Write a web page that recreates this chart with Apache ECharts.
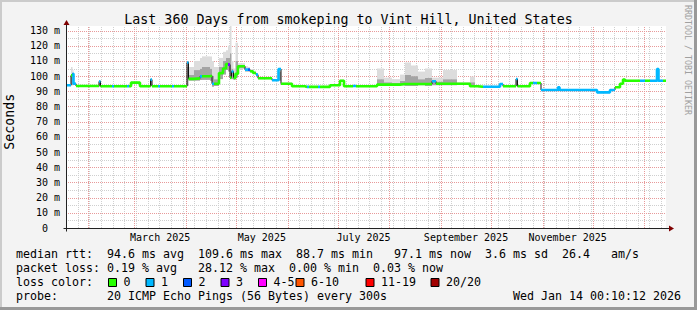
<!DOCTYPE html>
<html><head><meta charset="utf-8">
<script src="https://cdn.jsdelivr.net/npm/echarts@6/dist/echarts.min.js"></script>
<style>html,body{margin:0;padding:0;background:#f3f3f3}#c{width:697px;height:310px}</style>
</head><body><div id="c"></div>
<script>
// ---- data (x = days since start of 360-day window, values in ms) ----
const days = [0,3.0,3.9,4.5,6.0,19.8,20.7,27.6,28.8,36.6,
  37.8,39.0,44.4,50.7,51.6,55.2,56.4,63.6,64.8,72.6,
  73.5,76.8,80.4,81.6,86.4,87.6,88.8,91.8,94.2,96.0,
  97.2,98.4,99.3,100.5,101.7,103.2,107.4,109.2,110.4,112.2,
  114.0,115.2,123.6,127.5,129.0,135.6,143.4,144.6,145.8,151.2,
  152.4,158.4,164.4,166.8,172.2,174.0,186.6,190.8,195.6,200.4,
  203.4,207.0,211.2,215.4,219.6,222.0,226.2,234.6,242.4,245.4,
  247.2,250.2,260.4,262.2,270.0,270.9,278.4,280.2,282.6,285.0,
  295.2,296.1,318.6,326.4,329.4,332.4,334.2,335.4,344.4,347.4,
  350.4,354.6,355.5,358.2,360];
const median = [94.0,100.5,101.5,95.0,93.5,96.5,93.3,93.3,93.3,93.3,
  93.3,95.7,93.3,97.7,93.3,93.3,93.3,93.3,93.3,109.0,
  98.2,98.5,99.8,99.9,100.3,95.0,95.0,102.0,105.0,108.0,
  107.6,99.0,103.0,98.8,101.5,106.5,104.3,104.3,103.2,102.1,
  101.0,98.6,97.3,104.7,95.0,93.3,92.9,92.9,92.9,92.9,
  92.9,94.0,97.0,93.3,93.5,93.3,94.4,94.4,94.4,94.8,
  94.8,94.8,94.8,94.8,96.6,95.0,95.0,95.0,93.3,93.3,
  93.0,93.0,94.8,93.3,98.1,93.3,95.5,95.5,95.5,90.9,
  92.7,90.9,89.3,90.9,92.7,95.0,97.7,97.0,97.0,97.0,
  97.0,104.7,97.0,97.0,97.0];
const loss = [1,0,1,1,0,1,0,1,0,1,
  0,0,0,1,0,1,0,1,0,1,
  0,0,1,0,0,1,0,0,0,0,
  3,0,1,0,0,0,1,2,0,0,
  1,0,1,1,0,0,0,1,0,1,
  0,0,0,0,1,0,0,0,0,0,
  0,0,0,0,1,0,0,0,0,0,
  0,1,1,0,1,0,0,1,0,1,
  1,1,1,1,0,0,0,0,1,0,
  1,1,1,0,0];
const smokeLo = [93.5,94,94,94.5,93,93,93,93,93,93,
  93,95.3,93,93.5,93,93,93,93,93,93.5,
  97,97,97.5,97.5,97,93,93.5,98,101,104,
  103,98,98,97.5,99,105,103,103,102.5,101.5,
  100.5,98,97,97,94.5,93,92.5,92.5,92.5,92.5,
  92.5,93.5,96.5,93,93,93,93.5,93.5,93.5,94,
  93.5,93.5,94,93.5,94,94,94,94.5,93,93,
  92.6,92.6,94.3,93,93.5,93,95,95,95,90.5,
  90.8,90.5,88.8,90.5,92.3,94.5,97.2,96.5,96.5,96.5,
  96.5,97,96.5,96.5,96.5];
const smokeMid = [94.2,101,102,95.3,93.6,96.5,93.4,93.4,93.4,93.4,
  93.4,95.8,93.4,97.5,93.4,93.4,93.4,93.4,93.4,106,
  101,104,105,106,105,100,98,106,110,112,
  112,115,105,101,110,107,105,105,103.6,102.5,
  101.3,98.8,97.5,103,95.2,93.4,93,93,93,93,
  93,94.1,97.2,93.4,93.6,93.4,98,96,95.5,97,
  101,100,98,99,97,96.5,98,95.3,96,93.4,
  93.1,93.1,95,93.4,97.5,93.4,95.6,95.6,95.6,91,
  92.5,91,89.4,91,92.8,95.1,97.8,97.1,97.1,97.1,
  97.1,103,97.1,97.1,97.1];
const smokeHi = [94.8,106,104,96,94,97.5,94,94,94,94,
  94,96.3,94,98.5,94,94,94,94,94,110,
  106,110,112,113,113,110,106,112,116,117,
  120,140,110,105,122,108.5,106.5,106,104.5,103.5,
  102,99.5,98,105.5,95.8,94,93.5,93.5,93.5,93.5,
  93.5,94.6,97.8,94,94,94,105,99,98,101,
  109,107,103,105,99,99,104,96,99.7,94,
  93.6,93.6,95.5,94,98.8,94,96.2,96.2,96.2,91.5,
  93.2,91.5,90,91.5,93.3,95.7,98.4,97.7,97.7,97.7,
  97.7,105.5,97.7,97.7,97.7];

// ---- axis ticks / labels ----
const yTicks = [0,10,20,30,40,50,60,70,80,90,100,110,120,130];
const yMinorTicks = [5,15,25,35,45,55,65,75,85,95,105,115,125];
const monthStartDays = [13,41,72,102,133,163,194,225,255,286,316,347];
const weekStartDays = [7,14,21,28,35,42,49,56,63,70,77,84,91,98,105,112,119,126,133,140,147,154,161,168,175,182,189,196,203,210,217,224,231,238,245,252,259,266,273,280,287,294,301,308,315,322,329,336,343,350,357];
const xLabelDays = [56.5,117.5,178.5,240,301];
const xLabels = ['March 2025','May 2025','July 2025','September 2025','November 2025'];

// ---- texts / legend ----
const titleText = 'Last 360 Days from smokeping to Vint Hill, United States';
const yTitle = 'Seconds';
const watermark = 'RRDTOOL / TOBI OETIKER';
const statLines = [
  'median rtt:  94.6 ms avg  109.6 ms max  88.7 ms min   97.1 ms now  3.6 ms sd  26.4   am/s',
  'packet loss: 0.19 % avg   28.12 % max  0.00 % min  0.03 % now',
  'loss color:',
  'probe:       20 ICMP Echo Pings (56 Bytes) every 300s'
];
const dateText = 'Wed Jan 14 00:10:12 2026';
const lossLabels = ['0','1','2','3','4-5','6-10','11-19','20/20'];
const lossColors = ['#26ff00','#00b8ff','#0059ff','#7e00ff','#ff00ff','#ff5500','#ff0000','#a10000'];

const FONT = '"DejaVu Sans Mono", monospace';
const nb = s => s.replace(/ /g, '\u00a0');
const pts = arr => days.map((d, i) => [d, arr[i]]);

// smoke cells: one per interval between breakpoints
const smokeCells = [];
for (let i = 0; i < days.length - 1; i++) smokeCells.push([days[i], days[i + 1], smokeLo[i], smokeMid[i], smokeHi[i]]);

function segs(cls) {
  const out = [];
  for (let i = 0; i < days.length - 1; i++) {
    if (loss[i] === cls) {
      out.push([days[i], median[i]]);
      if (i + 1 === days.length - 1 || loss[i + 1] !== cls) {
        out.push([days[i + 1], median[i]]);
        out.push([days[i + 1], '-']);
      }
    }
  }
  return out;
}

const gridMinor = '#cfcfcf';
const gridMajor = '#e89a9a';
// grid line items: [value, isMajor]
const vGrid = weekStartDays.map(d => [d, 0]).concat(monthStartDays.map(d => [d, 1]));
const hGrid = yMinorTicks.map(v => [v, 0]).concat(yTicks.filter(v => v > 0).map(v => [v, 1]));

const series = [
  {type: 'custom', data: vGrid, z: 1, silent: true, encode: {x: 0},
   renderItem: (params, api) => {
     const p0 = api.coord([api.value(0), 0]);
     const p1 = api.coord([api.value(0), 133]);
     const x = Math.round(p0[0]) + 0.5;
     return {type: 'line', shape: {x1: x, y1: p0[1], x2: x, y2: p1[1]},
       style: {stroke: api.value(1) ? gridMajor : gridMinor, lineWidth: 1, lineDash: [1, 1]}, z2: api.value(1)};
   }},
  {type: 'custom', data: hGrid, z: 1, silent: true, encode: {y: 0},
   renderItem: (params, api) => {
     const p0 = api.coord([0, api.value(0)]);
     const p1 = api.coord([360, api.value(0)]);
     const y = Math.round(p0[1]) + 0.5;
     return {type: 'line', shape: {x1: p0[0], y1: y, x2: p1[0], y2: y},
       style: {stroke: api.value(1) ? gridMajor : gridMinor, lineWidth: 1, lineDash: [1, 1]}, z2: api.value(1)};
   }},
  {type: 'custom', data: smokeCells, z: 3, silent: true,
   encode: {x: [0, 1], y: [2, 3, 4]},
   renderItem: (params, api) => {
     const cs = params.coordSys;
     const a = api.coord([api.value(0), api.value(2)]);
     const m = api.coord([api.value(0), api.value(3)]);
     const h = api.coord([api.value(0), api.value(4)]);
     const e = api.coord([api.value(1), api.value(2)]);
     const top = Math.max(h[1], cs.y);
     const w = e[0] - a[0];
     return {type: 'group', children: [
       {type: 'rect', shape: {x: a[0], y: m[1], width: w, height: a[1] - m[1]}, style: {fill: '#a4a4a4'}},
       {type: 'rect', shape: {x: a[0], y: top, width: w, height: Math.max(0, m[1] - top)}, style: {fill: '#dcdcdc'}}
     ]};
   }},
  {type: 'line', step: 'end', data: pts(median), symbol: 'none', showSymbol: false,
   lineStyle: {width: 1, color: '#111'}, z: 4, silent: true}
];
[0, 1, 2, 3].forEach(c => {
  series.push({type: 'line', step: 'end', data: segs(c), symbol: 'none', showSymbol: false, connectNulls: false,
    lineStyle: {width: 2.6, color: lossColors[c], cap: 'butt'}, z: 5, silent: true});
});

const chart = echarts.init(document.getElementById('c'), null, {renderer: 'svg', width: 697, height: 310});
chart.setOption({
  animation: false,
  backgroundColor: '#f3f3f3',
  grid: {left: 66, right: 31, top: 26, bottom: 82, show: true, backgroundColor: '#ffffff', borderWidth: 0},
  xAxis: {type: 'value', min: 0, max: 360, axisLine: {show: false}, axisTick: {show: false}, splitLine: {show: false},
    axisLabel: {customValues: xLabelDays, formatter: v => xLabels[xLabelDays.indexOf(v)] || '',
      fontFamily: FONT, fontSize: 10, color: '#000', margin: 4, hideOverlap: false}},
  yAxis: {type: 'value', min: 0, max: 133, axisLine: {show: false}, axisTick: {show: false}, splitLine: {show: false},
    axisLabel: {customValues: yTicks, formatter: v => v === 0 ? '0\u00a0\u00a0' : v + '\u00a0m',
      fontFamily: FONT, fontSize: 10, color: '#000', margin: 6}},
  series: series
});

// decorations: axes with arrows, frame, texts, legend
const o = chart.convertToPixel({gridIndex: 0}, [0, 0]);
const t = chart.convertToPixel({gridIndex: 0}, [0, 133]);
const r = chart.convertToPixel({gridIndex: 0}, [360, 0]);
const ox = Math.round(o[0]) + 0.5, oy = Math.round(o[1]) + 0.5;
const AX = '#222', AR = '#7f0000';
const g = [];
g.push({type: 'line', shape: {x1: ox, y1: oy + 3, x2: ox, y2: t[1] - 3}, style: {stroke: AX, lineWidth: 1}, z: 10});
g.push({type: 'line', shape: {x1: ox - 3, y1: oy, x2: r[0] + 4, y2: oy}, style: {stroke: AX, lineWidth: 1}, z: 10});
g.push({type: 'polygon', shape: {points: [[ox - 3, t[1] - 1], [ox + 3, t[1] - 1], [ox, t[1] - 6]]}, style: {fill: AR}, z: 10});
g.push({type: 'polygon', shape: {points: [[r[0] + 3, oy - 3], [r[0] + 3, oy + 3], [r[0] + 8, oy]]}, style: {fill: AR}, z: 10});
// frame
g.push({type: 'rect', shape: {x: 0, y: 0, width: 697, height: 2}, style: {fill: '#cbcbcb'}, z: 0});
g.push({type: 'rect', shape: {x: 0, y: 0, width: 2, height: 310}, style: {fill: '#cbcbcb'}, z: 0});
g.push({type: 'rect', shape: {x: 694, y: 0, width: 3, height: 310}, style: {fill: '#999999'}, z: 0});
g.push({type: 'rect', shape: {x: 0, y: 307, width: 697, height: 3}, style: {fill: '#999999'}, z: 0});
// title
g.push({type: 'text', x: 348.5, y: 19.3, style: {text: nb(titleText), font: '13.3px ' + FONT, fill: '#000', align: 'center', verticalAlign: 'middle'}, z: 10});
g.push({type: 'text', x: 9.6, y: 121.7, rotation: Math.PI / 2, style: {text: yTitle, font: '13.3px ' + FONT, fill: '#000', align: 'center', verticalAlign: 'middle'}, z: 10});
g.push({type: 'text', x: 688, y: 60, rotation: -Math.PI / 2, style: {text: nb(watermark), font: '8.3px ' + FONT, fill: '#a0a0a0', align: 'center', verticalAlign: 'middle'}, z: 10});
const lineY = [253.5, 267.7, 281.9, 296];
statLines.forEach((s, i) => g.push({type: 'text', x: 16, y: lineY[i], style: {text: nb(s), font: '11.63px ' + FONT, fill: '#000', align: 'left', verticalAlign: 'middle'}, z: 10}));
g.push({type: 'text', x: 513, y: lineY[3], style: {text: nb(dateText), font: '11.63px ' + FONT, fill: '#000', align: 'left', verticalAlign: 'middle'}, z: 10});
const boxX = [108, 145.5, 183, 220.5, 258, 295.5, 365.5, 430.5];
lossLabels.forEach((lab, i) => {
  g.push({type: 'rect', shape: {x: boxX[i] + 0.5, y: 278.5, width: 8, height: 8}, style: {fill: lossColors[i], stroke: '#000', lineWidth: 1}, z: 10});
  g.push({type: 'text', x: boxX[i] + 15.5, y: lineY[2], style: {text: lab, font: '11.63px ' + FONT, fill: '#000', align: 'left', verticalAlign: 'middle'}, z: 10});
});
chart.setOption({graphic: {elements: g}});
</script>
</body></html>
